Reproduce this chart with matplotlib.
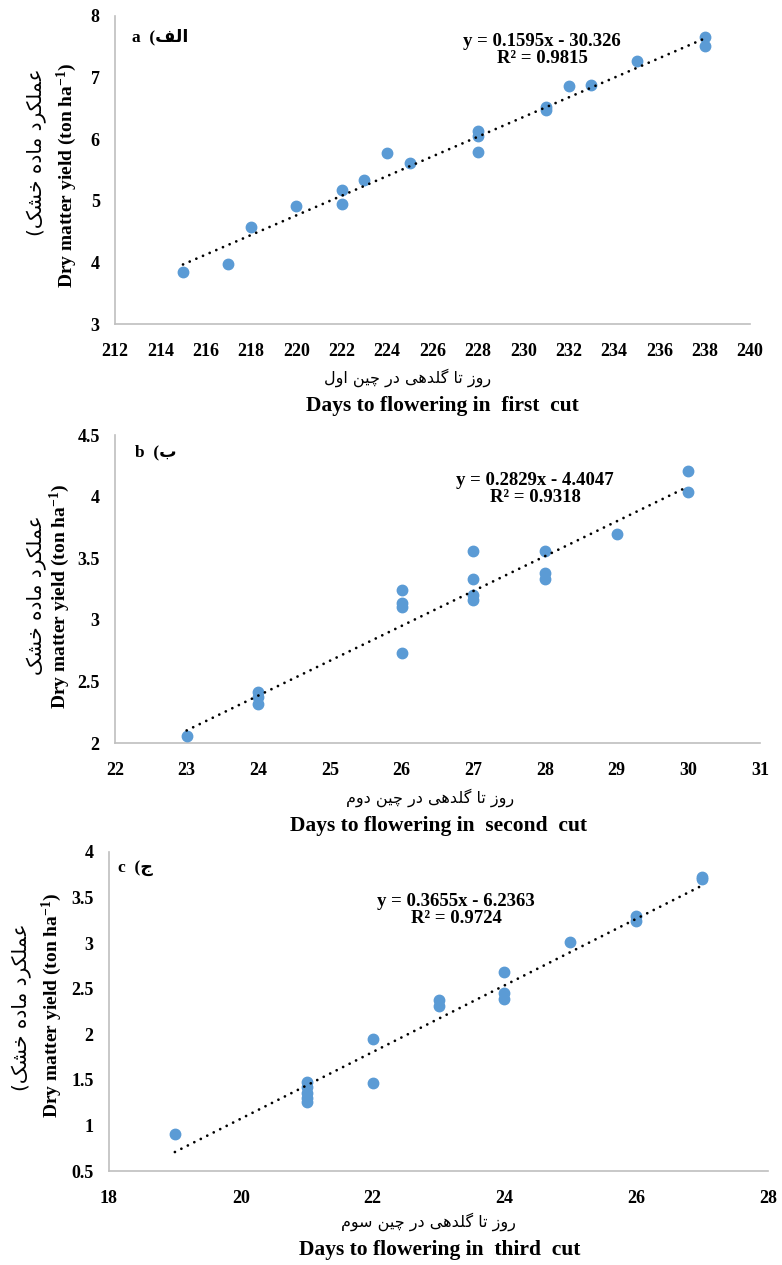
import numpy as np
import matplotlib
matplotlib.use("Agg")
import matplotlib.pyplot as plt

plt.rcParams["mathtext.fontset"] = "custom"
plt.rcParams["mathtext.rm"] = "Liberation Serif:bold"
plt.rcParams["mathtext.bf"] = "Liberation Serif:bold"
plt.rcParams["mathtext.default"] = "bf"

# ---- data ----
days_first = [215, 217, 218, 220, 222, 222, 223, 224, 225, 228, 228, 228, 231, 231, 232, 233, 235, 238, 238]
yield_first = [3.85, 3.97, 4.57, 4.91, 5.17, 4.94, 5.33, 5.78, 5.62, 6.14, 6.06, 5.80, 6.53, 6.47, 6.86, 6.88, 7.27, 7.66, 7.51]

days_second = [23, 24, 24, 24, 26, 26, 26, 26, 27, 27, 27, 27, 28, 28, 28, 29, 30, 30]
yield_second = [2.06, 2.41, 2.37, 2.32, 3.24, 3.14, 3.10, 2.73, 3.56, 3.33, 3.20, 3.16, 3.56, 3.38, 3.33, 3.70, 4.21, 4.04]

days_third = [19, 21, 21, 21, 21, 21, 22, 22, 23, 23, 24, 24, 24, 25, 26, 26, 27, 27]
yield_third = [0.91, 1.48, 1.42, 1.36, 1.30, 1.26, 1.95, 1.47, 2.38, 2.31, 2.68, 2.45, 2.39, 3.01, 3.30, 3.24, 3.73, 3.70]

slopes = [0.1595, 0.2829, 0.3655]
intercepts = [-30.326, -4.4047, -6.2363]
r_squared = [0.9815, 0.9318, 0.9724]

cut_en = ["first", "second", "third"]
cut_fa = ["اول", "دوم", "سوم"]
panel_en = ["a", "b", "c"]
panel_fa = ["الف", "ب", "ج"]

# ---- tiny Persian shaper (isolated, final, initial, medial) ----
FORMS = {
    "ا": ("\uFE8D", "\uFE8E", None, None),
    "ب": ("\uFE8F", "\uFE90", "\uFE91", "\uFE92"),
    "ت": ("\uFE95", "\uFE96", "\uFE97", "\uFE98"),
    "ج": ("\uFE9D", "\uFE9E", "\uFE9F", "\uFEA0"),
    "خ": ("\uFEA5", "\uFEA6", "\uFEA7", "\uFEA8"),
    "د": ("\uFEA9", "\uFEAA", None, None),
    "ر": ("\uFEAD", "\uFEAE", None, None),
    "ز": ("\uFEAF", "\uFEB0", None, None),
    "س": ("\uFEB1", "\uFEB2", "\uFEB3", "\uFEB4"),
    "ش": ("\uFEB5", "\uFEB6", "\uFEB7", "\uFEB8"),
    "ع": ("\uFEC9", "\uFECA", "\uFECB", "\uFECC"),
    "ف": ("\uFED1", "\uFED2", "\uFED3", "\uFED4"),
    "ل": ("\uFEDD", "\uFEDE", "\uFEDF", "\uFEE0"),
    "م": ("\uFEE1", "\uFEE2", "\uFEE3", "\uFEE4"),
    "ن": ("\uFEE5", "\uFEE6", "\uFEE7", "\uFEE8"),
    "ه": ("\uFEE9", "\uFEEA", "\uFEEB", "\uFEEC"),
    "و": ("\uFEED", "\uFEEE", None, None),
    "چ": ("\uFB7A", "\uFB7B", "\uFB7C", "\uFB7D"),
    "ک": ("\uFB8E", "\uFB8F", "\uFB90", "\uFB91"),
    "گ": ("\uFB92", "\uFB93", "\uFB94", "\uFB95"),
    "ی": ("\uFBFC", "\uFBFD", "\uFBFE", "\uFBFF"),
}


def rtl(text):
    out = []
    for i, ch in enumerate(text):
        if ch not in FORMS:
            out.append(ch)
            continue
        prev = text[i - 1] if i > 0 else ""
        nxt = text[i + 1] if i + 1 < len(text) else ""
        join_prev = prev in FORMS and FORMS[prev][2] is not None
        join_next = nxt in FORMS and FORMS[ch][2] is not None
        iso, fin, ini, med = FORMS[ch]
        if join_prev and join_next:
            out.append(med)
        elif join_prev:
            out.append(fin)
        elif join_next:
            out.append(ini)
        else:
            out.append(iso)
    return "".join(out)[::-1]


W, H = 782, 1265
BLUE = "#5B9BD5"
GRID = "#BFBFBF"
SERIF = "Liberation Serif"
FA = "DejaVu Sans"


def px(x, y):
    return x / W, 1 - y / H


fig = plt.figure(figsize=(W / 100, H / 100), dpi=100)

# pixel boxes (left, top, right, bottom) and text anchors per panel
boxes = [(115, 16, 750, 324), (115, 435, 760, 743), (109, 852, 768, 1171)]
xlims = [(212, 240), (22, 31), (18, 28)]
xsteps = [2, 1, 2]
ylims = [(3, 8), (2, 4.5), (0.5, 4)]
ysteps = [1, 0.5, 0.5]
eq_pos = [(542, 50), (535, 489), (456, 910)]
lab_pos = [(132, 37), (135, 452), (118, 868)]
ylab_pos = [(37, 152, 67, 175), (37, 595, 60, 596), (22, 1007, 52, 1005)]
xlab_pos = [(408, 378, 442, 406), (430, 798, 439, 826), (428, 1222, 440, 1250)]
fa_paren = [True, False, True]

xs = [days_first, days_second, days_third]
ys = [yield_first, yield_second, yield_third]

for i in range(3):
    l, t, r, b = boxes[i]
    ax = fig.add_axes([l / W, 1 - b / H, (r - l) / W, (b - t) / H])
    x = np.array(xs[i])
    y = np.array(ys[i])
    ax.plot(x, y, "o", color=BLUE, markersize=7.5, zorder=3)
    xf = np.array([x.min(), x.max()])
    ax.plot(xf, slopes[i] * xf + intercepts[i], color="black", lw=2.0,
            linestyle=(0, (0.01, 2.6)), dash_capstyle="round", zorder=4)

    ax.set_xlim(*xlims[i])
    ax.set_ylim(*ylims[i])
    ax.set_xticks(np.arange(xlims[i][0], xlims[i][1] + 0.01, xsteps[i]))
    ax.set_yticks(np.arange(ylims[i][0], ylims[i][1] + 0.01, ysteps[i]))
    ax.set_yticklabels([f"{v:g}" for v in ax.get_yticks()])
    for s in ["top", "right"]:
        ax.spines[s].set_visible(False)
    for s in ["left", "bottom"]:
        ax.spines[s].set_color(GRID)
        ax.spines[s].set_linewidth(1.2)
    ax.tick_params(length=0, labelsize=13, pad=11)
    ax.tick_params(axis="x", pad=14)
    for lab in ax.get_xticklabels() + ax.get_yticklabels():
        lab.set_fontfamily(SERIF)
        lab.set_fontweight("bold")

    # equation
    ex, ey = px(*eq_pos[i])
    fig.text(ex, ey, f"y = {slopes[i]}x - {abs(intercepts[i])}\nR² = {r_squared[i]}",
             ha="center", va="center", family=SERIF, fontweight="bold",
             fontsize=13.5, linespacing=0.95)

    # panel label
    lx, ly = px(*lab_pos[i])
    fig.text(lx, ly, panel_en[i] + "  (" + rtl(panel_fa[i]), ha="left", va="center",
             family=[SERIF, FA], fontweight="bold", fontsize=12.5)

    # y labels
    fx, fy, enx, eny = ylab_pos[i]
    fa_text = rtl("عملکرد ماده خشک")
    if fa_paren[i]:
        fa_text = "(" + fa_text
    fig.text(*px(fx, fy), fa_text, rotation=90, ha="center", va="center",
             family=FA, fontsize=14.5)
    fig.text(*px(enx, eny), "Dry matter yield (ton ha$^{-1}$)", rotation=90,
             ha="center", va="center", family=SERIF, fontweight="bold", fontsize=14)

    # x labels
    fx, fy, enx, eny = xlab_pos[i]
    fig.text(*px(fx, fy), rtl("روز تا گلدهی در چین " + cut_fa[i]), ha="center",
             va="center", family=FA, fontsize=11.5)
    fig.text(*px(enx, eny), f"Days to flowering in  {cut_en[i]}  cut", ha="center",
             va="center", family=SERIF, fontweight="bold", fontsize=15.5)

fig.savefig("out.png", dpi=100)
